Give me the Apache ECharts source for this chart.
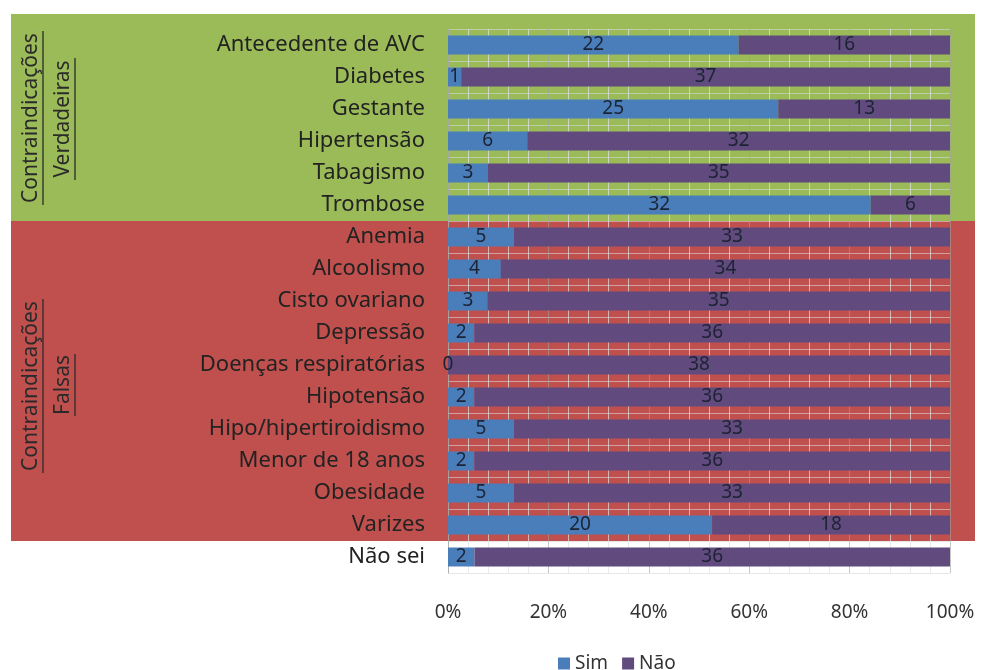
<!DOCTYPE html>
<html>
<head>
<meta charset="utf-8">
<script src="https://cdn.jsdelivr.net/npm/echarts@6/dist/echarts.min.js"></script>
<style>
  html, body { margin: 0; padding: 0; background: #fff; }
  #chart { width: 981px; height: 670px; }
</style>
</head>
<body>
<div id="chart"></div>
<script>
// categorias (de cima para baixo)
var categories = [
  'Antecedente de AVC', 'Diabetes', 'Gestante', 'Hipertensão', 'Tabagismo', 'Trombose',
  'Anemia', 'Alcoolismo', 'Cisto ovariano', 'Depressão', 'Doenças respiratórias',
  'Hipotensão', 'Hipo/hipertiroidismo', 'Menor de 18 anos', 'Obesidade', 'Varizes',
  'Não sei'
];
var sim = [22, 1, 25, 6, 3, 32, 5, 4, 3, 2, 0, 2, 5, 2, 5, 20, 2];
var nao = [16, 37, 13, 32, 35, 6, 33, 34, 35, 36, 38, 36, 33, 36, 33, 18, 36];
var xTicks = [0, 20, 40, 60, 80, 100];

var chart = echarts.init(document.getElementById('chart'));

var FONT = 'Noto Sans';
var gridTop = 29, gridLeft = 448, bandH = 32;

function pct(arr) {
  return arr.map(function (v, i) { return v / (sim[i] + nao[i]) * 100; });
}

// texto vertical sublinhado à esquerda
function sideLabel(x, yMid, text, len) {
  return [
    {
      type: 'text', x: x, y: yMid, rotation: Math.PI / 2, z: 5,
      style: { text: text, fill: '#2a2a2a', font: '21px "' + FONT + '"', align: 'center', verticalAlign: 'middle' }
    },
    {
      type: 'line', z: 5,
      shape: { x1: x + 12, y1: yMid - len / 2, x2: x + 12, y2: yMid + len / 2 },
      style: { stroke: '#2a2a2a', lineWidth: 1.3 }
    }
  ];
}

var bg = [
  { type: 'rect', z: -10, shape: { x: 11, y: 14, width: 964, height: gridTop + 6 * bandH - 14 }, style: { fill: '#9bbb59' } },
  { type: 'rect', z: -10, shape: { x: 11, y: gridTop + 6 * bandH, width: 964, height: 10 * bandH }, style: { fill: '#c0504d' } }
];

var sideTexts = []
  .concat(sideLabel(31, 118, 'Contraindicações', 174))
  .concat(sideLabel(63, 119, 'Verdadeiras', 122))
  .concat(sideLabel(31, 386, 'Contraindicações', 174))
  .concat(sideLabel(63, 385, 'Falsas', 62));

function barLabel(raw) {
  return {
    show: true,
    position: 'inside',
    color: '#1c2333',
    fontFamily: FONT,
    fontSize: 19,
    formatter: function (p) { return raw[p.dataIndex]; }
  };
}

chart.setOption({
  animation: false,
  textStyle: { fontFamily: FONT },
  graphic: bg.concat(sideTexts),
  legend: {
    data: ['Sim', 'Não'],
    left: 553,
    top: 649,
    itemWidth: 12,
    itemHeight: 12,
    itemGap: 14,
    icon: 'rect',
    textStyle: { fontSize: 19, color: '#333', fontFamily: FONT }
  },
  grid: { left: gridLeft, right: 31, top: gridTop, height: bandH * categories.length },
  xAxis: {
    type: 'value',
    min: 0,
    max: 100,
    interval: 20,
    axisLine: { show: false },
    axisTick: { show: false },
    axisLabel: {
      margin: 30,
      fontSize: 19,
      color: '#333',
      fontFamily: FONT,
      customValues: xTicks,
      formatter: '{value}%'
    },
    splitLine: { show: true, lineStyle: { color: 'rgba(160,160,160,0.6)', width: 1 } },
    minorTick: { show: false, splitNumber: 5 },
    minorSplitLine: { show: true, lineStyle: { color: 'rgba(225,225,225,0.7)', width: 1 } }
  },
  yAxis: {
    type: 'category',
    inverse: true,
    data: categories,
    axisLine: { show: true, lineStyle: { color: 'rgba(170,170,170,0.7)' } },
    axisTick: { show: false },
    splitLine: { show: true, lineStyle: { color: 'rgba(215,215,215,0.6)' } },
    axisLabel: { margin: 23, fontSize: 22, color: '#222', fontFamily: FONT }
  },
  series: [
    {
      name: 'Sim', type: 'bar', stack: 'total', barWidth: 19,
      itemStyle: { color: '#4a7ebb' },
      label: barLabel(sim),
      data: pct(sim)
    },
    {
      name: 'Não', type: 'bar', stack: 'total', barWidth: 19,
      itemStyle: { color: '#614a7e' },
      label: barLabel(nao),
      data: pct(nao)
    }
  ]
});
</script>
</body>
</html>
